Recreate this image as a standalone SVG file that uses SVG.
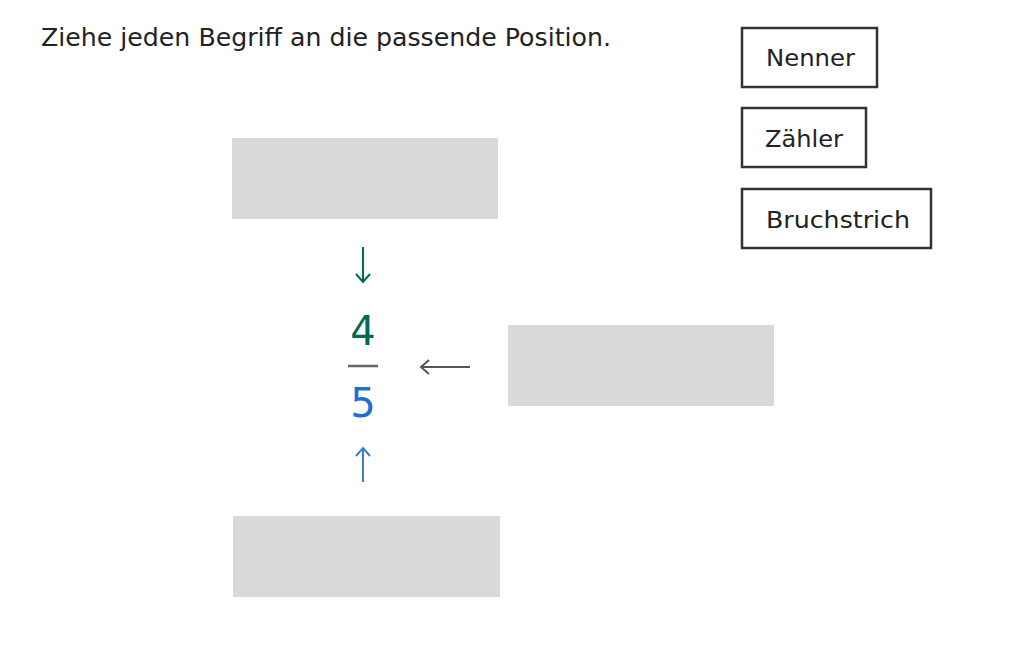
<svg xmlns="http://www.w3.org/2000/svg" width="1032" height="645" viewBox="0 0 1032 645">
<style>
.t{font-family:"DejaVu Sans","Liberation Sans",sans-serif;fill:#222}
.slot{fill:#d9d9d9}
.chip{fill:#fff;stroke:#333;stroke-width:2.5}
</style>
<rect width="1032" height="645" fill="#fff"/>
<text class="t" x="41" y="46" font-size="24" textLength="570" lengthAdjust="spacingAndGlyphs">Ziehe jeden Begriff an die passende Position.</text>
<g id="nenner"><rect class="chip" x="742" y="28" width="135" height="59"/><text class="t" x="766" y="66" font-size="23" textLength="89" lengthAdjust="spacingAndGlyphs">Nenner</text></g>
<g id="zaehler"><rect class="chip" x="742" y="108" width="124" height="59"/><text class="t" x="765" y="147" font-size="23" textLength="78" lengthAdjust="spacingAndGlyphs">Zähler</text></g>
<g id="bruchstrich"><rect class="chip" x="742" y="189" width="189" height="59"/><text class="t" x="766" y="228" font-size="23" textLength="144" lengthAdjust="spacingAndGlyphs">Bruchstrich</text></g>
<g id="slot-top"><rect class="slot" x="232" y="138" width="266" height="81"/></g>
<g id="slot-right"><rect class="slot" x="508" y="325" width="266" height="81"/></g>
<g id="slot-bottom"><rect class="slot" x="233" y="516" width="267" height="81"/></g>
<g id="fraction">
<text x="363" y="345" font-size="40" text-anchor="middle" font-family="DejaVu Sans,sans-serif" fill="#006b54">4</text>
<line x1="348" y1="366" x2="378" y2="366" stroke="#666" stroke-width="2.5"/>
<text x="363" y="417" font-size="40" text-anchor="middle" font-family="DejaVu Sans,sans-serif" fill="#1f6fd0">5</text>
</g>
<g id="connectors" fill="none" stroke-width="2">
<path d="M363 247V282M356 274L363 282L370 274" stroke="#006b54"/>
<path d="M363 482V448M356 456L363 448L370 456" stroke="#3a7fd5"/>
<path d="M470 367H421M429 360L421 367L429 374" stroke="#555"/>
</g>
</svg>
